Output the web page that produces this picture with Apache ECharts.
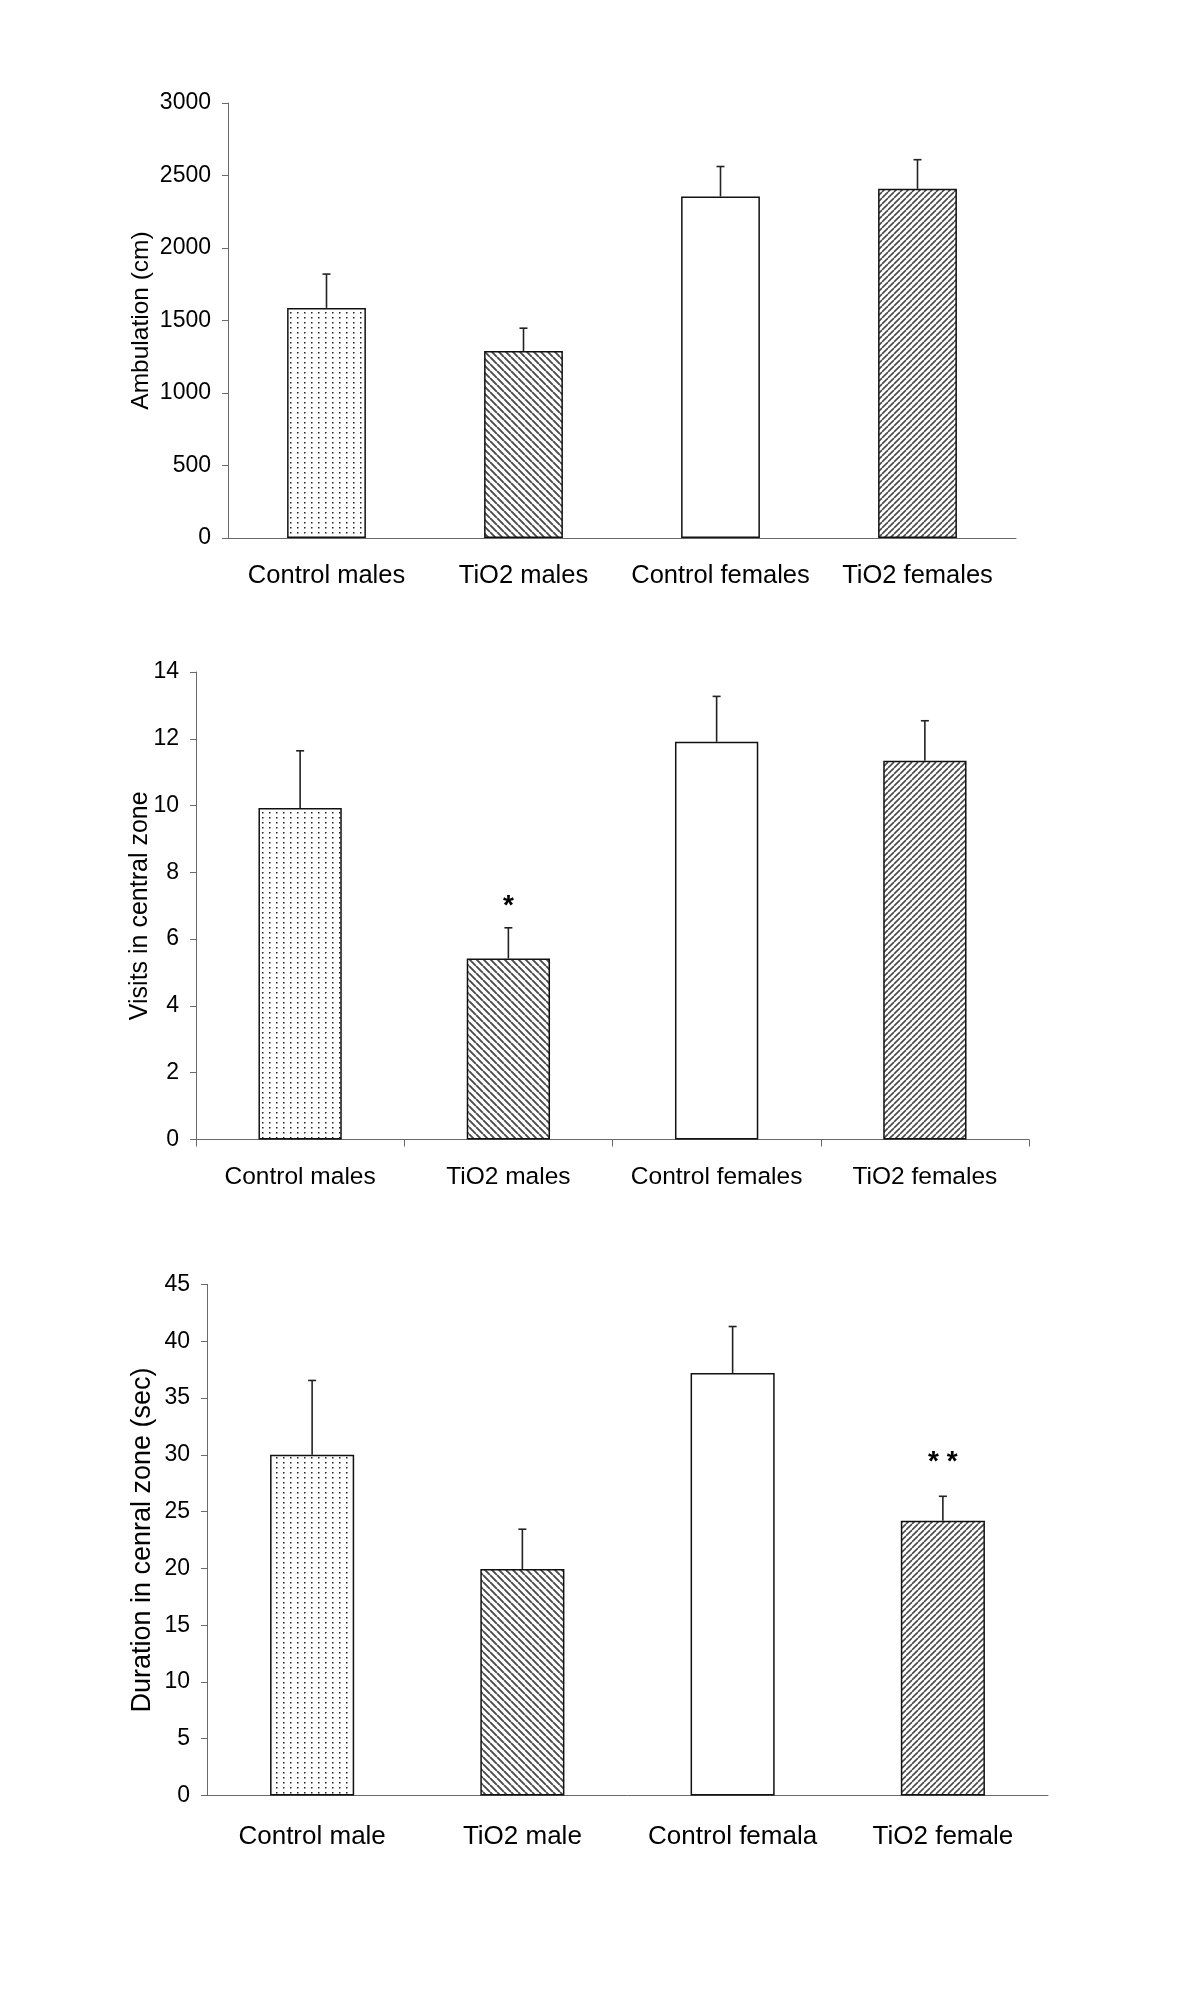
<!DOCTYPE html>
<html>
<head>
<meta charset="utf-8">
<script src="https://cdn.jsdelivr.net/npm/echarts@6/dist/echarts.min.js"></script>
<style>
html,body{margin:0;padding:0;background:#fff;}
#chart{width:1200px;height:1995px;}
</style>
</head>
<body>
<div id="chart"></div>
<script>
// ---- data ----
const categories1 = ['Control males', 'TiO2 males', 'Control females', 'TiO2 females'];
const ambulation = [1587, 1290, 2355, 2408];
const ambulationSE = [233, 157, 207, 201];
const sig1 = ['', '', '', ''];
const ticks1 = { min: 0, max: 3000, interval: 500 };

const categories2 = ['Control males', 'TiO2 males', 'Control females', 'TiO2 females'];
const visits = [9.93, 5.42, 11.91, 11.34];
const visitsSE = [1.71, 0.92, 1.36, 1.20];
const sig2 = ['', '*', '', ''];
const ticks2 = { min: 0, max: 14, interval: 2 };

const categories3 = ['Control male', 'TiO2 male', 'Control femala', 'TiO2 female'];
const duration = [30.0, 19.95, 37.2, 24.2];
const durationSE = [6.55, 3.5, 4.1, 2.15];
const sig3 = ['', '', '', '* *'];
const ticks3 = { min: 0, max: 45, interval: 5 };

// ---- patterns ----
function makeDots() {
  const c = document.createElement('canvas'); c.width = 7; c.height = 5;
  const g = c.getContext('2d');
  g.fillStyle = '#fff'; g.fillRect(0, 0, 7, 5);
  g.fillStyle = '#222'; g.fillRect(3, 2, 1.5, 1.5);
  return c;
}
function makeHatch(s, dir, w, col) {
  const c = document.createElement('canvas'); c.width = s; c.height = s;
  const g = c.getContext('2d');
  g.fillStyle = '#fff'; g.fillRect(0, 0, s, s);
  g.strokeStyle = col; g.lineWidth = w; g.beginPath();
  if (dir === 'back') {
    [-s, 0, s].forEach(k => { g.moveTo(k, 0); g.lineTo(k + s, s); });
  } else {
    [0, s, 2 * s].forEach(k => { g.moveTo(k, 0); g.lineTo(k - s, s); });
  }
  g.stroke();
  return c;
}
const fills = [
  { image: makeDots(), repeat: 'repeat' },
  { image: makeHatch(7, 'back', 1.9, '#4a4a4a'), repeat: 'repeat' },
  '#ffffff',
  { image: makeHatch(6, 'fwd', 1.6, '#4a4a4a'), repeat: 'repeat' }
];

const FONT = 'Liberation Sans, Arial, sans-serif';
const grids = [
  { left: 228, right: 184, top: 103, height: 435 },
  { left: 196, right: 171, top: 672, height: 467.5 },
  { left: 207, right: 152, top: 1284.5, height: 511 }
];
const panels = [
  { cats: categories1, vals: ambulation, se: ambulationSE, sig: sig1, ticks: ticks1, name: 'Ambulation (cm)', nameFont: 24.5, nameGap: 74, xTick: false, xMargin: 25, xFont: 25.5, starGap: 26 },
  { cats: categories2, vals: visits, se: visitsSE, sig: sig2, ticks: ticks2, name: 'Visits in central zone', nameFont: 25, nameGap: 43, xTick: true, xMargin: 25, xFont: 24.5, starGap: 27 },
  { cats: categories3, vals: duration, se: durationSE, sig: sig3, ticks: ticks3, name: 'Duration in cenral zone (sec)', nameFont: 27, nameGap: 51, xTick: false, xMargin: 28, xFont: 26, starGap: 39 }
];

const xAxis = [], yAxis = [], series = [];
panels.forEach((p, gi) => {
  xAxis.push({
    type: 'category', gridIndex: gi, data: p.cats,
    axisLine: { lineStyle: { color: '#6a6a6a', width: 1 } },
    axisTick: { show: p.xTick, length: 7, lineStyle: { color: '#6a6a6a' } },
    axisLabel: { color: '#000', fontFamily: FONT, fontSize: p.xFont, margin: p.xMargin, interval: 0 },
    splitLine: { show: false }
  });
  yAxis.push({
    type: 'value', gridIndex: gi, min: p.ticks.min, max: p.ticks.max, interval: p.ticks.interval,
    name: p.name, nameLocation: 'middle', nameGap: p.nameGap, nameMoveOverlap: false,
    nameTextStyle: { color: '#000', fontFamily: FONT, fontSize: p.nameFont },
    axisLine: { show: true, lineStyle: { color: '#6a6a6a', width: 1 } },
    axisTick: { show: true, length: 6, lineStyle: { color: '#6a6a6a' } },
    axisLabel: { color: '#000', fontFamily: FONT, fontSize: 23, margin: 17, formatter: v => String(v) },
    splitLine: { show: false }
  });
  series.push({
    type: 'bar', xAxisIndex: gi, yAxisIndex: gi, barWidth: '40%',
    data: p.vals.map((v, i) => ({ value: v, itemStyle: { color: fills[i] } })),
    itemStyle: { borderColor: '#111', borderWidth: 1.5 },
    silent: true, animation: false
  });
  series.push({
    type: 'custom', xAxisIndex: gi, yAxisIndex: gi, z: 5, silent: true, animation: false,
    data: p.vals.map((v, i) => [i, v, p.se[i]]),
    encode: { x: 0, y: 1 },
    renderItem: function (params, api) {
      const i = api.value(0), v = api.value(1), se = api.value(2);
      const a = api.coord([i, v]), b = api.coord([i, v + se]);
      const children = [
        { type: 'line', shape: { x1: a[0], y1: a[1], x2: b[0], y2: b[1] }, style: { stroke: '#222', lineWidth: 1.6 } },
        { type: 'line', shape: { x1: b[0] - 4, y1: b[1], x2: b[0] + 4, y2: b[1] }, style: { stroke: '#222', lineWidth: 1.6 } }
      ];
      const s = p.sig[params.dataIndex];
      if (s) {
        children.push({
          type: 'text',
          style: { text: s, x: b[0], y: b[1] - p.starGap + 5, fill: '#000', font: 'bold 28px ' + FONT, align: 'center', verticalAlign: 'middle' }
        });
      }
      return { type: 'group', children: children };
    }
  });
});

const chart = echarts.init(document.getElementById('chart'), null, { renderer: 'canvas' });
chart.setOption({
  backgroundColor: '#fff',
  animation: false,
  grid: grids,
  xAxis: xAxis,
  yAxis: yAxis,
  series: series
});
</script>
</body>
</html>
